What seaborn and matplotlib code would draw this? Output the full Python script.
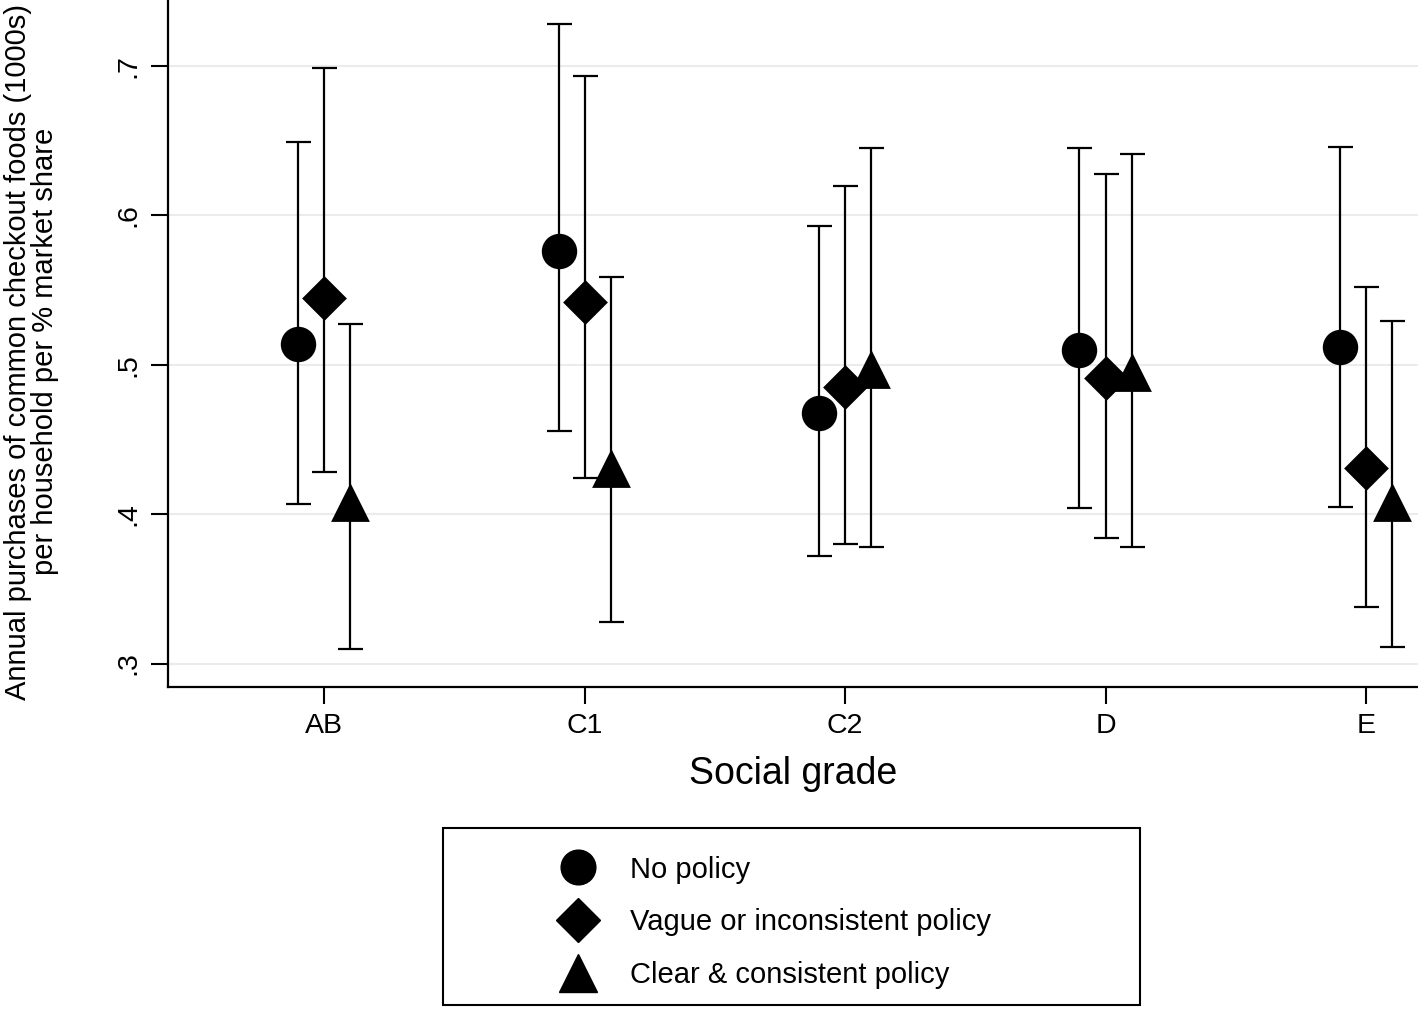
import numpy as np
import pandas as pd
import matplotlib
matplotlib.use('Agg')
import matplotlib.pyplot as plt
from matplotlib.lines import Line2D
from matplotlib.patches import Rectangle
import seaborn as sns

grades = ['AB', 'C1', 'C2', 'D', 'E']
policies = ['No policy', 'Vague or inconsistent policy', 'Clear & consistent policy']

# point estimates and 95% CI, per policy, in grade order
est_none = [0.514, 0.576, 0.468, 0.510, 0.512]
lo_none = [0.407, 0.456, 0.372, 0.404, 0.405]
hi_none = [0.649, 0.728, 0.593, 0.645, 0.646]

est_vague = [0.545, 0.542, 0.485, 0.491, 0.431]
lo_vague = [0.428, 0.424, 0.380, 0.384, 0.338]
hi_vague = [0.699, 0.693, 0.620, 0.628, 0.552]

est_clear = [0.408, 0.431, 0.497, 0.495, 0.408]
lo_clear = [0.310, 0.328, 0.378, 0.378, 0.311]
hi_clear = [0.527, 0.559, 0.645, 0.641, 0.529]

rows = []
for p, off, est, lo, hi in zip(policies, [-0.1, 0.0, 0.1],
                               [est_none, est_vague, est_clear],
                               [lo_none, lo_vague, lo_clear],
                               [hi_none, hi_vague, hi_clear]):
    for i, g in enumerate(grades):
        rows.append({'grade': g, 'policy': p, 'x': i + 1 + off,
                     'est': est[i], 'lo': lo[i], 'hi': hi[i]})
df = pd.DataFrame(rows)

sns.set_style('white')
plt.rcParams['font.family'] = ['Liberation Sans', 'DejaVu Sans']
plt.rcParams['text.color'] = 'black'
plt.rcParams['axes.labelcolor'] = 'black'
plt.rcParams['xtick.color'] = 'black'
plt.rcParams['ytick.color'] = 'black'

fig = plt.figure(figsize=(14.18, 10.09), dpi=100)
ax = fig.add_axes([168 / 1418, 1 - 687 / 1009, 1 - 168 / 1418, 687 / 1009])

ax.errorbar(df['x'], df['est'], yerr=[df['est'] - df['lo'], df['hi'] - df['est']],
            fmt='none', ecolor='black', elinewidth=1.6, capsize=9, capthick=1.6, zorder=2)

markers = {'No policy': 'o', 'Vague or inconsistent policy': 'D',
           'Clear & consistent policy': '^'}
sizes = {'No policy': 650, 'Vague or inconsistent policy': 520,
         'Clear & consistent policy': 780}
for p in policies:
    sub = df[df['policy'] == p]
    sns.scatterplot(data=sub, x='x', y='est', marker=markers[p], s=sizes[p],
                    color='black', edgecolor='black', linewidth=0, ax=ax,
                    zorder=3, legend=False)

ax.set_xlim(0.4, 5.2)
ax.set_ylim(0.2843, 0.7442)
ax.set_xticks(range(1, 6))
ax.set_xticklabels(grades, fontsize=20.5)
ax.set_yticks([0.3, 0.4, 0.5, 0.6, 0.7])
ax.set_yticklabels(['.3', '.4', '.5', '.6', '.7'], fontsize=20.5, rotation=90, va='center')
ax.yaxis.grid(True, color='#ebebeb', lw=1.5)
ax.tick_params(axis='both', direction='out', length=12, width=1.5, color='black',
               left=True, bottom=True, pad=7)
for s in ['top', 'right']:
    ax.spines[s].set_visible(False)
for s in ['left', 'bottom']:
    ax.spines[s].set_color('black')
    ax.spines[s].set_linewidth(1.6)

ax.set_xlabel('Social grade', fontsize=27, labelpad=12)
ax.set_ylabel('Annual purchases of common checkout foods (1000s)\nper household per % market share',
              fontsize=21, linespacing=0.95)
ax.yaxis.set_label_coords(-0.087, 0.488)

fig.patches.append(Rectangle((443 / 1418, 1 - 1005 / 1009), 697 / 1418, 177 / 1009,
                             transform=fig.transFigure, fill=False, lw=1.5,
                             edgecolor='black'))
handles = [Line2D([], [], ls='none', marker='o', color='black', markersize=25),
           Line2D([], [], ls='none', marker='D', color='black', markersize=22),
           Line2D([], [], ls='none', marker='^', color='black', markersize=27)]
fig.legend(handles, policies, loc='upper left', bbox_to_anchor=(543 / 1418, 1 - 841 / 1009),
           frameon=False, fontsize=21, handlelength=1.4, handletextpad=1.08,
           labelspacing=0.85, borderpad=0)

fig.savefig('out.png', dpi=100)
